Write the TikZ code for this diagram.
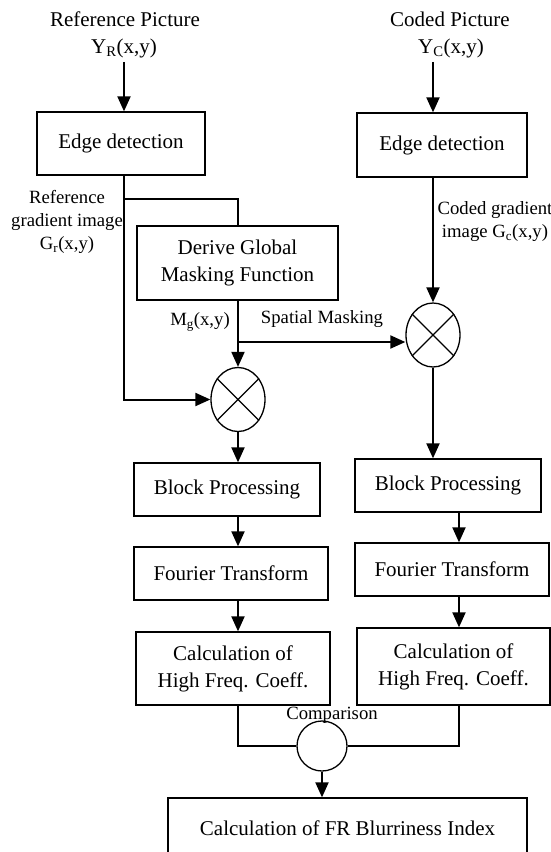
\documentclass[tikz,border=0pt]{standalone}
\usepackage{fontspec}
\setmainfont{Liberation Serif}
\usetikzlibrary{arrows.meta,shapes.geometric}

\begin{document}
\begin{tikzpicture}[x=1pt,y=-1pt,
    block/.style={draw, line width=1.3pt, align=center, inner sep=0pt,
      font=\fontsize{21}{27}\selectfont},
    title/.style={inner sep=0pt, font=\fontsize{21}{27}\selectfont},
    lbl/.style={align=center, inner sep=0pt, font=\fontsize{18.7}{23}\selectfont},
    mult/.style={draw, ellipse, line width=1.3pt, minimum width=54pt,
      minimum height=64pt, inner sep=0pt},
    flow/.style={line width=2pt},
    arr/.style={flow, -{Triangle[length=15pt,width=13pt]}}]
  \useasboundingbox (0,0) rectangle (551,852);

  % Inputs
  \node[title] (refT) at (125,19) {Reference Picture};
  \node[title, inner sep=4pt] (refY) at (124,48) {Y\textsubscript{R}(x,y)};
  \node[title] (codT) at (450,19) {Coded Picture};
  \node[title, inner sep=4pt] (codY) at (451,48) {Y\textsubscript{C}(x,y)};

  % Processing blocks
  \node[block, minimum width=168pt, minimum height=63pt] (edgeL) at (121,143.5) {Edge detection};
  \node[block, minimum width=170pt, minimum height=64pt] (edgeR) at (442,145) {Edge detection};
  \node[block, minimum width=201pt, minimum height=74pt] (derive) at (237.5,263) {Derive Global\\Masking Function};
  \node[mult] (mulL) at (238,399.5) {};
  \node[mult] (mulR) at (433,335) {};
  \node[block, minimum width=186pt, minimum height=53pt] (blockL) at (227,489.5) {Block Processing};
  \node[block, minimum width=194pt, minimum height=53pt] (fourL) at (231,573.5) {Fourier Transform};
  \node[block, minimum width=194pt, minimum height=73pt] (calcL) at (233,668.5) {Calculation of\\High Freq. Coeff.};
  \node[block, minimum width=186pt, minimum height=53pt] (blockR) at (448,485.5) {Block Processing};
  \node[block, minimum width=194pt, minimum height=53pt] (fourR) at (452,569.5) {Fourier Transform};
  \node[block, minimum width=193pt, minimum height=77pt] (calcR) at (453.5,666.5) {Calculation of\\High Freq. Coeff.};
  \node[circle, draw, line width=1.3pt, minimum size=50pt, inner sep=0pt] (cmp) at (322,746) {};
  \node[block, minimum width=359pt, minimum height=60pt] (final) at (347.5,828) {Calculation of FR Blurriness Index};

  % Crosses in the multipliers
  \foreach \m in {mulL,mulR}
    \draw[line width=1.3pt] (\m.45) -- (\m.225) (\m.135) -- (\m.315);

  % Labels
  \node[lbl] (refG) at (67,222) {Reference\\gradient image\\G\textsubscript{r}(x,y)};
  \node[lbl] (codG) at (495,222) {Coded gradient\\image G\textsubscript{c}(x,y)};
  \node[lbl] (mgL) at (200,322) {M\textsubscript{g}(x,y)};
  \node[lbl] (spL) at (322,319) {Spatial Masking};
  \node[lbl] (cmpL) at (332,715) {Comparison};

  % Connectors
  \coordinate (colR) at (459,0);
  \coordinate (gsplit) at (124,199);
  \coordinate (msplit) at (238,342);
  \draw[arr] (refY.south) -- (refY.south |- edgeL.north);
  \draw[arr] (codY.south -| mulR) -- (edgeR.north -| mulR);
  \draw[arr] (edgeL.south -| refY) |- (mulL.west);
  \draw[flow] (gsplit) -| (derive.north -| mulL);
  \draw[arr] (derive.south -| mulL) -- (mulL.north);
  \draw[arr] (msplit) -- (msplit -| mulR.west);
  \draw[arr] (edgeR.south -| mulR) -- (mulR.north);
  \draw[arr] (mulL.south) -- (blockL.north -| mulL);
  \draw[arr] (blockL.south -| mulL) -- (fourL.north -| mulL);
  \draw[arr] (fourL.south -| mulL) -- (calcL.north -| mulL);
  \draw[arr] (mulR.south) -- (blockR.north -| mulR);
  \draw[arr] (blockR.south -| colR) -- (fourR.north -| colR);
  \draw[arr] (fourR.south -| colR) -- (calcR.north -| colR);
  \draw[flow] (calcL.south -| mulL) |- (cmp.west);
  \draw[flow] (calcR.south -| colR) |- (cmp.east);
  \draw[arr] (cmp.south) -- (final.north -| cmp);
\end{tikzpicture}
\end{document}
